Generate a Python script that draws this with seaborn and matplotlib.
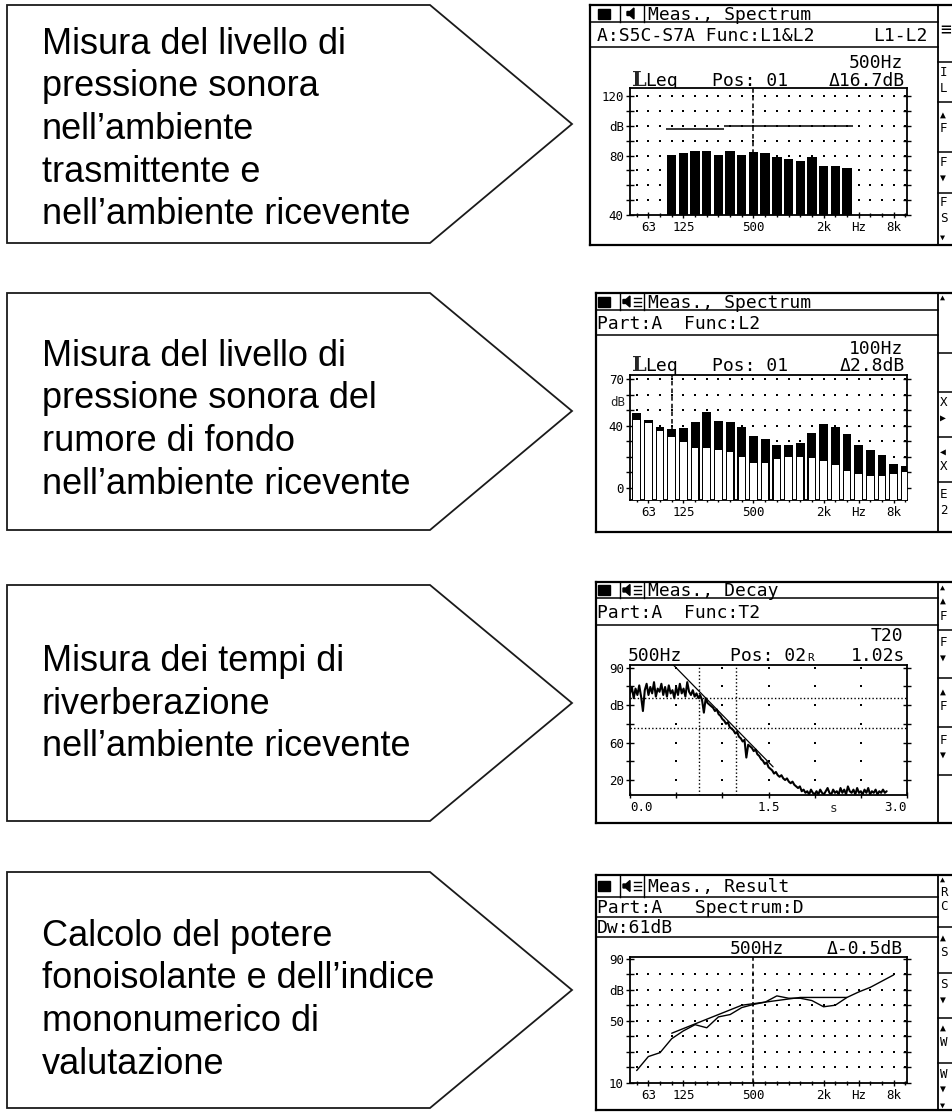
import numpy as np
import matplotlib
matplotlib.use("Agg")
import matplotlib.pyplot as plt
from matplotlib.patches import Polygon, Rectangle
import seaborn as sns

sns.set_style("white")
LCD = ["DejaVu Sans Mono", "DejaVu Sans"]
SANS = ["Liberation Sans", "DejaVu Sans"]
plt.rcParams["font.family"] = LCD

W, H = 953, 1113

# ---------------- data ----------------
box_texts = [
    ["Misura del livello di", "pressione sonora", "nell\u2019ambiente",
     "trasmittente e", "nell\u2019ambiente ricevente"],
    ["Misura del livello di", "pressione sonora del", "rumore di fondo",
     "nell\u2019ambiente ricevente"],
    ["Misura dei tempi di", "riverberazione", "nell\u2019ambiente ricevente"],
    ["Calcolo del potere", "fonoisolante e dell\u2019indice",
     "mononumerico di", "valutazione"],
]

freq_tick_pos = [1, 4, 10, 16, 19, 22]
freq_tick_labels = ["63", "125", "500", "2k", "Hz", "8k"]

# screen 1: L2 bars and L1 line (1/3 octave band index, 50 Hz = 0)
s1_bands = [3, 4, 5, 6, 7, 8, 9, 10, 11, 12, 13, 14, 15, 16, 17, 18]
s1_L2 = [80.4, 81.6, 83.1, 83.1, 80.4, 83.1, 80.4, 82.7,
         81.6, 79.3, 77.5, 76.4, 79.3, 73.3, 73.3, 71.5]
s1_L1 = [97.8, 97.8, 97.8, 97.8, 97.8, 99.6, 99.6, 99.6,
         99.6, 99.6, 99.6, 99.6, 99.6, 99.6, 99.6, 99.6]

# screen 2: total level and background noise
s2_bands = list(range(24))
s2_total = [48.5, 43.7, 39.4, 37.7, 38.8, 42.2, 48.7, 43.3, 42.2, 39.4, 33.6, 31.5,
            27.6, 27.6, 28.7, 35.1, 40.9, 39.4, 34.7, 27.6, 24.1, 21.1, 15.1, 14.2]
s2_background = [43.7, 41.6, 36.9, 33.0, 29.7, 25.9, 25.9, 24.4, 23.3, 20.0, 16.2, 16.2,
                 18.5, 20.0, 20.0, 19.0, 17.2, 14.7, 11.0, 8.6, 7.8, 7.5, 8.6, 9.9]

# screen 3: decay curve (sample step 0.02 s)
decay_step = 0.02
decay_db = [
    74, 78, 71, 77, 73, 79, 72, 63, 76, 80,
    73, 78, 74, 81, 72, 77, 75, 80, 73, 78,
    72, 79, 74, 76, 71, 78, 73, 80, 74, 77,
    72, 81, 75, 73, 76, 72, 74, 71, 73, 70,
    62, 71, 68, 67, 66, 65, 63, 64, 61, 60,
    58, 57, 55, 56, 53, 52, 51, 49, 50, 47,
    46, 44, 45, 34, 42, 41, 40, 38, 39, 36,
    35, 33, 32, 30, 31, 28, 27, 26, 24, 25,
    23, 22, 23, 21, 20, 21, 19, 18, 19, 17,
    16, 15, 16, 13, 14, 12, 13, 11, 14, 12,
    11, 13, 11, 14, 12, 11, 13, 15, 12, 11,
    14, 12, 13, 11, 15, 12, 14, 11, 16, 13,
    12, 14, 11, 15, 12, 13, 11, 14, 12, 15,
    11, 13, 12, 14, 11, 13, 12, 14, 12, 13,
]
t20_fit_t = [0.47, 1.55]
t20_fit_db = [91.7, 28.2]
eval_t = [0.745, 1.145]
eval_db = [70.9, 52.2]
s3_ytick_labels = ["20", "", "60", "", "dB", "", "90"]

# screen 4: sound reduction index and shifted reference curve
s4_meas_bands = list(range(23))
s4_R = [18, 27, 29.5, 38.5, 43.5, 47.5, 45.5, 52.5, 54, 58.5, 60.5, 62,
        66, 64.5, 64.5, 63, 59, 60, 65, 68.5, 71.5, 75.5, 79.5]
s4_ref_bands = [3, 4, 5, 6, 7, 8, 9, 10, 11, 12, 13, 14, 15, 16, 17, 18]
s4_ref = [42, 45, 48, 51, 54, 57, 60, 61, 62, 63, 64, 65, 65, 65, 65, 65]

# ---------------- figure ----------------
fig = plt.figure(figsize=(W / 100, H / 100), dpi=100, facecolor="white")


def fr(x0, y0, x1, y1):
    return [x0 / W, 1 - y1 / H, (x1 - x0) / W, (y1 - y0) / H]


ax0 = fig.add_axes([0, 0, 1, 1])
ax0.set_xlim(0, W)
ax0.set_ylim(H, 0)
ax0.axis("off")


def seg(x0, y0, x1, y1, lw=1.1, color="black"):
    ax0.plot([x0, x1], [y0, y1], color=color, lw=lw, solid_capstyle="projecting")


def lcd(x, y, s, size=13, ha="left", va="baseline", **kw):
    ax0.text(x, y, s, fontsize=size, ha=ha, va=va, family=LCD, color="black", **kw)


# ---- arrow boxes with text ----
box_geo = [(5, 243, 124, 54), (293, 530, 411, 366), (585, 821, 703, 671), (872, 1108, 990, 946)]
for (top, bot, tip, base), lines in zip(box_geo, box_texts):
    ax0.add_patch(Polygon([(7, top), (430, top), (572, tip), (430, bot), (7, bot)],
                          closed=True, fill=False, lw=1.3, ec="#1a1a1a"))
    for k, line in enumerate(lines):
        ax0.text(42, base + 42.5 * k, line, fontsize=26, family=SANS,
                 ha="left", va="baseline", color="black")

# ---- LCD screen frames ----
screens = [
    dict(x0=590, top=5, bot=245, rows=[22, 47], menu=[62, 102, 152, 193], lines=False),
    dict(x0=596, top=293, bot=532, rows=[310, 335], menu=[353, 392, 437, 482], lines=True),
    dict(x0=596, top=582, bot=823, rows=[598, 625], menu=[630, 678, 727, 775], lines=True),
    dict(x0=596, top=875, bot=1110, rows=[897, 917, 937], menu=[927, 973, 1018, 1063], lines=True),
]
for sc in screens:
    x0, top, bot = sc["x0"], sc["top"], sc["bot"]
    seg(x0, top, W + 3, top, 1.6)
    seg(x0, bot, W + 3, bot, 1.6)
    seg(x0, top, x0, bot, 1.6)
    seg(938, top, 938, bot, 1.3)
    for r in sc["rows"]:
        seg(x0, r, 938, r, 1.1)
    for m in sc["menu"]:
        seg(938, m, W + 3, m, 1.1)
    r1 = sc["rows"][0]
    cy = (top + r1) / 2
    ax0.add_patch(Rectangle((598, cy - 5), 12, 10, color="black"))
    seg(620, top, 620, r1, 1.0)
    seg(644, top, 644, r1, 1.0)
    sx = 623 if sc["lines"] else 627
    ax0.add_patch(Polygon([(sx, cy - 2), (sx + 3, cy - 2), (sx + 7, cy - 5.5), (sx + 7, cy + 5.5),
                           (sx + 3, cy + 2), (sx, cy + 2)], closed=True, color="black"))
    if sc["lines"]:
        for dy in (-4, 0, 4):
            seg(634, cy + dy, 641, cy + dy, 1.0)

# ---- screen texts ----
# screen 1
lcd(648, 20, "Meas., Spectrum")
lcd(597, 41, "A:S5C-S7A Func:L1&L2")
lcd(928, 41, "L1-L2", ha="right")
lcd(903, 68, "500Hz", ha="right")
ax0.text(632, 86, "L", fontsize=15, family=["DejaVu Serif"], weight="bold", va="baseline")
lcd(645, 86, "Leq")
lcd(712, 86, "Pos: 01")
lcd(905, 86, "\u039416.7dB", ha="right")
# screen 2
lcd(648, 308, "Meas., Spectrum")
lcd(597, 329, "Part:A  Func:L2")
lcd(903, 354, "100Hz", ha="right")
ax0.text(632, 371, "L", fontsize=15, family=["DejaVu Serif"], weight="bold", va="baseline")
lcd(645, 371, "Leq")
lcd(712, 371, "Pos: 01")
lcd(905, 371, "\u03942.8dB", ha="right")
# screen 3
lcd(648, 596.5, "Meas., Decay")
lcd(597, 618, "Part:A  Func:T2")
lcd(903, 641, "T20", ha="right")
lcd(628, 661, "500Hz")
lcd(730, 661, "Pos: 02")
lcd(807, 661, "R", size=8)
lcd(905, 661, "1.02s", ha="right")
lcd(905, 681, "T20-T30:7.8%", size=10, ha="right")
lcd(905, 702, "CC:0.918", size=10, ha="right")
# screen 4
lcd(648, 892.5, "Meas., Result")
lcd(597, 913, "Part:A   Spectrum:D")
lcd(597, 933, "Dw:61dB")
lcd(730, 954, "500Hz")
lcd(903, 954, "\u0394-0.5dB", ha="right")

# ---- menu column glyphs (right edge of the instrument display) ----
menu_glyphs = [
    (30, "\u2261", 13), (73, "I", 9), (88, "L", 9), (115, "\u25B2", 7), (129, "F", 9),
    (163, "F", 9), (178, "\u25BC", 7), (203, "F", 9), (218, "S", 9), (237, "\u25BC", 6),
    (297, "\u25B2", 6), (403, "X", 9), (418, "\u25B6", 7), (452, "\u25C0", 7), (467, "X", 9),
    (495, "E", 9), (510, "2", 9),
    (587, "\u25B2", 6), (601, "\u25B2", 7), (616, "F", 9), (643, "F", 9), (658, "\u25BC", 7),
    (692, "\u25B2", 7), (706, "F", 9), (740, "F", 9), (755, "\u25BC", 7),
    (879, "\u25B2", 6), (892, "R", 9), (907, "C", 9), (938, "\u25B2", 7), (952, "S", 9),
    (985, "S", 9), (1000, "\u25BC", 7), (1028, "\u25B2", 7), (1042, "W", 9),
    (1074, "W", 9), (1089, "\u25BC", 7), (1105, "\u25BC", 6),
]
for y, g, size in menu_glyphs:
    lcd(940, y, g, size=size, va="center")


# ---------------- plot panels ----------------
def style_lcd(ax):
    ax.set_facecolor("white")
    for s in ax.spines.values():
        s.set_visible(True)
        s.set_linewidth(1.3)
        s.set_color("black")
    ax.tick_params(axis="both", which="both", direction="inout", color="black",
                   width=1.0, labelsize=9, pad=1.5, labelcolor="black")
    ax.tick_params(axis="y", which="major", length=6, left=True, right=True, labelright=False)
    ax.tick_params(axis="x", which="major", length=5, bottom=True, top=False)
    ax.tick_params(axis="x", which="minor", length=3, bottom=True, top=False)
    ax.set_xlabel("")
    ax.set_ylabel("")
    ax.grid(False)


def freq_axis(ax):
    ax.set_xlim(-0.57, 23.14)
    ax.set_xticks(freq_tick_pos)
    ax.set_xticklabels(freq_tick_labels, family=LCD)
    ax.set_xticks(range(24), minor=True)


def dot_grid(ax, xs, ys):
    gx, gy = np.meshgrid(xs, ys)
    ax.scatter(gx.ravel(), gy.ravel(), s=2.6, marker="s", color="black", linewidths=0, zorder=1)


def level_ticks(ax, ticks, labels):
    ax.set_yticks(ticks)
    ax.set_yticklabels(labels, family=LCD)


dash = (0, (3, 2))

# screen 1
ax1 = fig.add_axes(fr(630, 88, 907, 215))
dot_grid(ax1, np.arange(24), np.arange(50, 121, 10))
sns.barplot(x=s1_bands, y=s1_L2, native_scale=True, color="black", saturation=1,
            width=0.8, errorbar=None, ax=ax1, zorder=3, linewidth=0)
b1 = np.array(s1_bands)
ax1.hlines(s1_L1, b1 - 0.5, b1 + 0.5, color="black", lw=1.1, zorder=4)
ax1.axvline(10, color="black", lw=1.1, ls=dash, zorder=5)
style_lcd(ax1)
freq_axis(ax1)
ax1.set_ylim(40, 125.5)
level_ticks(ax1, list(range(40, 121, 10)), ["40", "", "", "", "80", "", "dB", "", "120"])

# screen 2
ax2 = fig.add_axes(fr(630, 375, 907, 500))
s2_base = -8
dot_grid(ax2, np.arange(24), np.arange(10, 71, 10))
ax2.axvline(3, color="black", lw=1.1, ls=dash, zorder=2)
ax2.bar(s2_bands, np.array(s2_total) - s2_base, bottom=s2_base, width=0.76,
        color="black", zorder=3, linewidth=0)
ax2.bar(s2_bands, np.array(s2_background) - s2_base, bottom=s2_base, width=0.56,
        color="white", zorder=4, linewidth=0)
style_lcd(ax2)
freq_axis(ax2)
ax2.set_ylim(s2_base, 72.8)
level_ticks(ax2, list(range(0, 71, 10)), ["0", "", "", "", "40", "", "", "70"])
ax2.text(-0.018, 55, "dB", transform=ax2.get_yaxis_transform(), ha="right", va="center",
         fontsize=9, family=LCD)

# screen 3
ax3 = fig.add_axes(fr(630, 665, 907, 795))
s3_yt = [20 + k * 70 / 6 for k in range(7)]
dot_grid(ax3, [0.5, 1.0, 1.5, 2.0, 2.5], s3_yt)
for t in eval_t:
    ax3.axvline(t, color="black", lw=1.0, ls=(0, (1, 1.6)), zorder=2)
for d in eval_db:
    ax3.axhline(d, color="black", lw=1.0, ls=(0, (1, 1.6)), zorder=2)
decay_t = np.arange(len(decay_db)) * decay_step
sns.lineplot(x=decay_t, y=decay_db, ax=ax3, color="black", lw=1.5, estimator=None, zorder=4)
sns.lineplot(x=t20_fit_t, y=t20_fit_db, ax=ax3, color="black", lw=0.9, estimator=None, zorder=5)
style_lcd(ax3)
ax3.set_xlim(0, 3.0)
ax3.set_ylim(10.65, 91.7)
ax3.set_xticks([0, 0.5, 1.0, 1.5, 2.0, 2.5, 3.0])
ax3.set_xticklabels(["0.0", "", "", "1.5", "", "", "3.0"], family=LCD)
xl = ax3.get_xticklabels()
xl[0].set_ha("left")
xl[-1].set_ha("right")
level_ticks(ax3, s3_yt, s3_ytick_labels)
ax3.text(2.2, -0.05, "s", transform=ax3.get_xaxis_transform(), ha="center", va="top",
         fontsize=9, family=LCD)

# screen 4
ax4 = fig.add_axes(fr(630, 957, 907, 1083))
dot_grid(ax4, np.arange(24), np.arange(20, 81, 10))
ax4.axvline(10, color="black", lw=1.1, ls=dash, zorder=2)
sns.lineplot(x=s4_ref_bands, y=s4_ref, ax=ax4, color="black", lw=1.0, estimator=None, zorder=3)
sns.lineplot(x=s4_meas_bands, y=s4_R, ax=ax4, color="black", lw=1.0, estimator=None, zorder=4)
style_lcd(ax4)
freq_axis(ax4)
ax4.set_ylim(10, 91)
level_ticks(ax4, list(range(10, 91, 10)), ["10", "", "", "", "50", "", "dB", "", "90"])

for ax in (ax1, ax2, ax3, ax4):
    leg = ax.get_legend()
    if leg is not None:
        leg.remove()

fig.savefig("out.png", dpi=100, facecolor="white")
